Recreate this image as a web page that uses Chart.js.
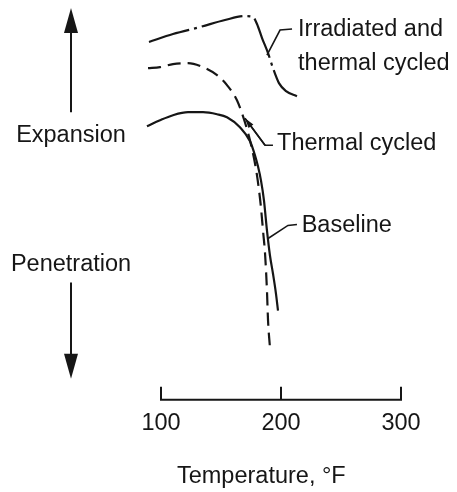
<!DOCTYPE html>
<html>
<head>
<meta charset="utf-8">
<script src="https://cdn.jsdelivr.net/npm/chart.js@4.4.1/dist/chart.umd.min.js"></script>
<style>
  html, body { margin: 0; padding: 0; background: #fff; }
  #wrap { width: 457px; height: 492px; }
</style>
</head>
<body>
<div id="wrap"><canvas id="chart"></canvas></div>
<script>
// temperature (deg F) vs relative movement (arbitrary units, up = expansion)
const seriesNames = ['Irradiated and thermal cycled', 'Thermal cycled', 'Baseline'];

const irradTemp = [90, 110, 132.5, 153.3, 170, 176.7, 180, 184.2, 189.2, 193.3, 198.3, 204.2, 213.3];
const irradExp  = [35.7, 36.5, 37.2, 37.9, 38.3, 38.2, 37.5, 36.1, 34.6, 33.1, 31.6, 30.8, 30.3];

const cycledTemp = [89.2, 99.2, 110, 122.5, 135, 146.7, 155, 163.3, 168.3, 173.3, 177.5, 180, 181.7, 183.3, 185, 186.7, 188.3, 189.2, 190.8];
const cycledExp  = [33.1, 33.2, 33.5, 33.6, 33.2, 32.4, 31.4, 29.9, 28.3, 26.3, 24.1, 22.4, 20.9, 19.2, 16.9, 14.6, 10.9, 7.9, 5.2];

const baseTemp = [88.3, 99.2, 110, 122.5, 135, 146.7, 155, 165.8, 174.2, 178.3, 180.8, 183.3, 185.8, 188.3, 190.8, 193.3, 195.8, 197.5];
const baseExp  = [27.3, 27.9, 28.4, 28.7, 28.7, 28.5, 28.2, 27.2, 25.8, 24.4, 23.3, 21.9, 19.9, 16.9, 14.4, 12.6, 10.6, 8.9];

const tickValues = [100, 200, 300];
const xTitle = 'Temperature, °F';

const FONT = '"Liberation Sans", Arial, Helvetica, sans-serif';
const INK = '#161616';

// callouts: label anchor and leader line, in data units
const callouts = [
  { lines: ['Irradiated and', 'thermal cycled'], at: [214.2, 36.3], lead: [[188.3, 34.4], [199.2, 36.9], [209.2, 37.0]] },
  { lines: ['Thermal cycled'], at: [196.7, 24.9], lead: [[170, 28.1], [186.7, 25.4], [193.3, 25.4]], arrow: true },
  { lines: ['Baseline'], at: [217.2, 16.7], lead: [[189.2, 16.1], [205.8, 17.4], [213.3, 17.5]] },
];
const sideLabels = [
  { text: 'Expansion', at: 25.7, arrow: [28.7, 39.1] },
  { text: 'Penetration', at: 12.9, arrow: [11.7, 2.1] },
];
const sideX = 25;

function pts(xs, ys) { return xs.map((x, i) => ({ x: x, y: ys[i] })); }

function arrowTo(ctx, x1, y1, x2, y2, len, half) {
  const a = Math.atan2(y2 - y1, x2 - x1);
  const c = Math.cos(a), s = Math.sin(a);
  ctx.beginPath();
  ctx.moveTo(x1, y1);
  ctx.lineTo(x2 - c * len * 0.7, y2 - s * len * 0.7);
  ctx.stroke();
  ctx.beginPath();
  ctx.moveTo(x2, y2);
  ctx.lineTo(x2 - c * len + s * half, y2 - s * len - c * half);
  ctx.lineTo(x2 - c * len - s * half, y2 - s * len + c * half);
  ctx.closePath();
  ctx.fill();
}

const annotations = {
  id: 'annotations',
  afterDraw(chart) {
    const { ctx, chartArea } = chart;
    const xs = chart.scales.x, ys = chart.scales.y;
    const X = v => xs.getPixelForValue(v);
    const Y = v => ys.getPixelForValue(v);
    const bottom = chartArea.bottom;
    ctx.save();
    ctx.strokeStyle = INK;
    ctx.fillStyle = INK;

    // axis line with inward ticks
    ctx.lineWidth = 2;
    ctx.lineCap = 'square';
    ctx.beginPath();
    ctx.moveTo(X(tickValues[0]), bottom);
    ctx.lineTo(X(tickValues[tickValues.length - 1]), bottom);
    tickValues.forEach(t => {
      ctx.moveTo(X(t), bottom);
      ctx.lineTo(X(t), bottom - 12);
    });
    ctx.stroke();
    ctx.lineCap = 'butt';

    ctx.font = '23.5px ' + FONT;
    ctx.textBaseline = 'alphabetic';
    ctx.textAlign = 'left';
    ctx.fillText(xTitle, X(113.3), bottom + 83);

    // callouts
    ctx.lineWidth = 1.6;
    callouts.forEach(c => {
      ctx.beginPath();
      c.lead.forEach((p, i) => {
        if (i === 0) ctx.moveTo(X(p[0]), Y(p[1]));
        else ctx.lineTo(X(p[0]), Y(p[1]));
      });
      ctx.stroke();
      if (c.arrow) {
        const p0 = c.lead[0], p1 = c.lead[1];
        arrowTo(ctx, X(p1[0]), Y(p1[1]), X(p0[0]), Y(p0[1]), 10, 3);
      }
      c.lines.forEach((t, i) => ctx.fillText(t, X(c.at[0]), Y(c.at[1]) + i * 33.5));
    });

    // expansion / penetration arrows
    ctx.lineWidth = 2;
    ctx.textAlign = 'center';
    sideLabels.forEach(s => {
      ctx.fillText(s.text, X(sideX), Y(s.at));
      arrowTo(ctx, X(sideX), Y(s.arrow[0]), X(sideX), Y(s.arrow[1]), 25, 7);
    });
    ctx.restore();
  }
};

const lineStyle = {
  borderColor: INK,
  borderWidth: 2.2,
  pointRadius: 0,
  fill: false,
  cubicInterpolationMode: 'monotone',
};

new Chart(document.getElementById('chart'), {
  type: 'line',
  data: {
    datasets: [
      Object.assign({ label: seriesNames[0], data: pts(irradTemp, irradExp), borderDash: [42, 5, 3, 5] }, lineStyle),
      Object.assign({ label: seriesNames[1], data: pts(cycledTemp, cycledExp), borderDash: [13, 7] }, lineStyle),
      Object.assign({ label: seriesNames[2], data: pts(baseTemp, baseExp) }, lineStyle),
    ]
  },
  options: {
    responsive: true,
    maintainAspectRatio: false,
    animation: false,
    layout: { padding: { left: 143, right: 56, top: 9, bottom: 44 } },
    plugins: { legend: { display: false }, tooltip: { enabled: false } },
    scales: {
      x: {
        type: 'linear',
        min: 85,
        max: 300,
        afterBuildTicks: s => { s.ticks = tickValues.map(v => ({ value: v })); },
        grid: { display: false, drawTicks: false },
        border: { display: false },
        ticks: { color: INK, font: { family: FONT, size: 23.5 }, padding: 10, maxRotation: 0 }
      },
      y: { display: false, min: 0, max: 39 }
    }
  },
  plugins: [annotations]
});
</script>
</body>
</html>
